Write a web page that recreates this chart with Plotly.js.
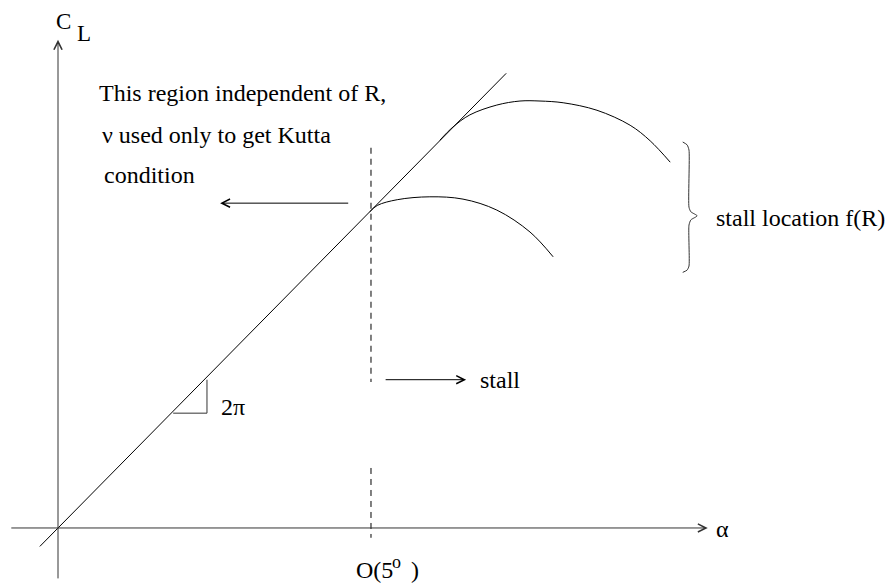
<!DOCTYPE html>
<html><head><meta charset="utf-8">
<script src="https://cdn.plot.ly/plotly-3.0.1.min.js"></script>
<style>html,body{margin:0;padding:0;background:#fff}#chart{width:896px;height:587px}</style>
</head><body><div id="chart"></div>
<script>
// ---- data (alpha in degrees, CL) ----
const alphaLine = [-0.29, 7.16];
const clLine = [-0.032, 0.788];
const alphaUpper = [6.10, 6.31, 6.58, 7.01, 7.38, 7.70, 8.07, 8.61, 9.14, 9.46, 9.78];
const clUpper = [0.672, 0.695, 0.716, 0.733, 0.740, 0.740, 0.737, 0.724, 0.698, 0.671, 0.634];
const alphaLower = [4.98, 5.10, 5.42, 5.94, 6.47, 7.01, 7.54, 7.91];
const clLower = [0.548, 0.559, 0.569, 0.574, 0.570, 0.551, 0.513, 0.470];
const alphaStall = 5;
const clDashTop = [0.659, 0.253];
const clDashBottom = [0.104, -0.017];
const triAlpha = [1.84, 2.38, 2.38];
const triCL = [0.199, 0.199, 0.257];
const braceAlpha = [9.98, 10.05, 10.08, 10.08, 10.11, 10.21, 10.11, 10.08, 10.08, 10.05, 9.98];
const braceCL = [0.669, 0.664, 0.655, 0.556, 0.548, 0.541, 0.534, 0.525, 0.454, 0.447, 0.443];
const axisAlpha = [-0.77, 10.38];
const axisCL = [-0.090, 0.846];
const leftArrowAlpha = [4.66, 2.59], leftArrowCL = 0.563;
const stallArrowAlpha = [5.21, 6.52], stallArrowCL = 0.257;
const labels = {
  c: 'C', l: 'L', alpha: 'α',
  line1: 'This region independent of R,', line2: 'ν used only to get Kutta', line3: 'condition',
  stall: 'stall', slope: '2π', orderA: 'O(5', orderB: 'o', orderC: ')', loc: 'stall location f(R)'
};

// ---- layout helpers ----
const W = 896, H = 587;
const xr = [-0.9265, 13.387], yr = [-0.1023, 0.9151];
const P = (px, py) => ({x: xr[0] + px / W * (xr[1] - xr[0]), y: yr[1] - py / H * (yr[1] - yr[0])});
const FAM = 'Liberation Serif, Times New Roman, serif';
const FONT = {family: FAM, size: 24, color: '#000'};
const blk = {color: '#000', width: 1};

const traces = [
  {x: alphaLine, y: clLine, mode: 'lines', line: blk},
  {x: alphaUpper, y: clUpper, mode: 'lines', line: Object.assign({shape: 'spline'}, blk)},
  {x: alphaLower, y: clLower, mode: 'lines', line: Object.assign({shape: 'spline'}, blk)},
  {x: [alphaStall, alphaStall], y: clDashTop, mode: 'lines', line: {color: '#000', width: 1, dash: '6px,5px'}},
  {x: [alphaStall, alphaStall], y: clDashBottom, mode: 'lines', line: {color: '#000', width: 1, dash: '6px,5px'}},
  {x: triAlpha, y: triCL, mode: 'lines', line: {color: '#333', width: 1}},
  {x: braceAlpha, y: braceCL, mode: 'lines', line: {color: '#333', width: 1, shape: 'spline', smoothing: 0.6}}
];

function arrow(x0, y0, x1, y1, color) {
  return {x: x1, y: y1, ax: x0, ay: y0, xref: 'x', yref: 'y', axref: 'x', ayref: 'y',
    text: '', showarrow: true, arrowhead: 5, arrowsize: 1.6, arrowwidth: 1, arrowcolor: color || '#000', standoff: 0, startstandoff: 0};
}
function label(text, px, py, size) {
  const p = P(px, py);
  return {x: p.x, y: p.y, xref: 'x', yref: 'y', text: text, showarrow: false,
    font: Object.assign({}, FONT, size ? {size: size} : {}),
    xanchor: 'left', yanchor: 'middle'};
}

const annotations = [
  arrow(axisAlpha[0], 0, axisAlpha[1], 0, '#333'),
  arrow(0, axisCL[0], 0, axisCL[1], '#333'),
  arrow(leftArrowAlpha[0], leftArrowCL, leftArrowAlpha[1], leftArrowCL),
  arrow(stallArrowAlpha[0], stallArrowCL, stallArrowAlpha[1], stallArrowCL),
  label(labels.c, 54, 21, 23),
  label(labels.l, 75, 33, 23),
  label(labels.alpha, 714, 529),
  label(labels.line1, 97, 93),
  label(labels.line2, 100, 135),
  label(labels.line3, 102, 175),
  label(labels.stall, 478, 380),
  label(labels.slope, 219, 407),
  label(labels.orderA, 354, 570),
  label(labels.orderB, 390, 562, 18),
  label(labels.orderC, 409, 570),
  label(labels.loc, 714, 218)
];

const layout = {
  width: W, height: H, margin: {l: 0, r: 0, t: 0, b: 0},
  paper_bgcolor: '#fff', plot_bgcolor: '#fff', showlegend: false,
  xaxis: {range: xr, visible: false, fixedrange: true},
  yaxis: {range: yr, visible: false, fixedrange: true},
  annotations: annotations
};
Plotly.newPlot('chart', traces, layout, {displayModeBar: false, staticPlot: true});
</script></body></html>
